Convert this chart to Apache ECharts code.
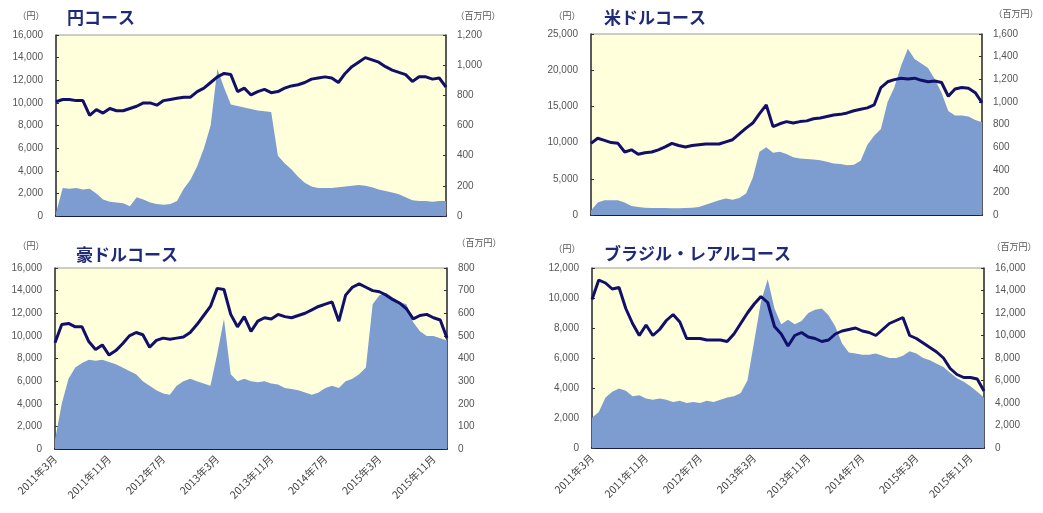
<!DOCTYPE html>
<html>
<head>
<meta charset="utf-8">
<script src="https://cdn.jsdelivr.net/npm/echarts@6/dist/echarts.min.js"></script>
<style>
  html, body { margin: 0; padding: 0; background: #ffffff; }
  #chart { width: 1043px; height: 513px; }
</style>
</head>
<body>
<div id="chart"></div>
<script>
// Monthly points, 2011年3月 .. 2016年1月 (59 months)
const startYear = 2011, startMonth = 3, monthCount = 59;
const months = [];
for (let i = 0; i < monthCount; i++) {
  const t = startMonth - 1 + i;
  months.push((startYear + Math.floor(t / 12)) + '年' + (t % 12 + 1) + '月');
}

// 円コース: 基準価額 (円) and 純資産総額 (百万円)
const yenNav = [10100, 10300, 10300, 10200, 10200, 8900, 9400, 9100, 9500, 9300,
  9300, 9500, 9700, 10000, 10000, 9800, 10200, 10300, 10400, 10500,
  10500, 11000, 11300, 11800, 12300, 12600, 12500, 11000, 11300, 10700,
  11000, 11200, 10900, 11000, 11300, 11500, 11600, 11800, 12100, 12200,
  12300, 12200, 11800, 12600, 13200, 13600, 14000, 13800, 13600, 13200,
  12900, 12700, 12500, 11900, 12300, 12300, 12100, 12200, 11400];
const yenAssets = [20, 185, 180, 185, 175, 180, 150, 110, 95, 90,
  85, 65, 125, 110, 90, 80, 75, 80, 100, 180,
  240, 330, 450, 600, 975, 850, 740, 730, 720, 710,
  700, 695, 690, 400, 350, 310, 260, 220, 195, 185,
  185, 185, 190, 195, 200, 205, 200, 190, 175, 165,
  155, 145, 125, 105, 100, 100, 95, 100, 100];

// 米ドルコース
const usdNav = [9900, 10600, 10300, 10000, 9900, 8700, 9000, 8400, 8600, 8700,
  9000, 9400, 9900, 9600, 9400, 9600, 9700, 9800, 9800, 9800,
  10100, 10400, 11200, 12000, 12700, 14000, 15200, 12200, 12600, 12900,
  12700, 12900, 13000, 13300, 13400, 13600, 13800, 13900, 14100, 14400,
  14600, 14800, 15200, 17600, 18400, 18700, 18900, 18800, 18900, 18600,
  18400, 18500, 18300, 16400, 17400, 17600, 17500, 16900, 15500];
const usdAssets = [40, 110, 130, 130, 130, 110, 80, 70, 65, 62,
  62, 62, 60, 60, 62, 65, 70, 90, 110, 130,
  145, 135, 150, 190, 330, 560, 600, 550, 560, 540,
  510, 500, 495, 490, 485, 470, 455, 450, 440, 445,
  480, 620, 700, 760, 1000, 1130, 1320, 1470, 1380, 1340,
  1300, 1200, 1080, 920, 880, 880, 870, 840, 820];

// 豪ドルコース
const audNav = [9400, 11000, 11100, 10800, 10800, 9500, 8800, 9200, 8300, 8700,
  9300, 10000, 10300, 10100, 9000, 9600, 9800, 9700, 9800, 9900,
  10300, 11000, 11800, 12600, 14200, 14100, 11900, 10800, 11700, 10400,
  11300, 11600, 11500, 11900, 11700, 11600, 11800, 12000, 12300, 12600,
  12800, 13000, 11300, 13600, 14300, 14600, 14300, 14000, 13900, 13600,
  13200, 12900, 12400, 11500, 11800, 11900, 11600, 11400, 9800];
const audAssets = [40, 200, 310, 360, 380, 395, 390, 395, 385, 375,
  360, 345, 330, 300, 280, 260, 245, 240, 280, 300,
  310, 300, 290, 280, 420, 575, 330, 300, 310, 300,
  295, 300, 290, 285, 270, 265, 260, 250, 240, 250,
  270, 280, 270, 300, 310, 330, 360, 640, 680, 690,
  670, 650, 640, 560, 520, 500, 500, 490, 480];

// ブラジル・レアルコース
const brlNav = [9900, 11200, 11000, 10600, 10700, 9300, 8300, 7500, 8200, 7500,
  7900, 8500, 8900, 8400, 7300, 7300, 7300, 7200, 7200, 7200,
  7100, 7600, 8300, 9000, 9600, 10100, 9700, 8100, 7600, 6800,
  7500, 7700, 7400, 7300, 7100, 7200, 7600, 7800, 7900, 8000,
  7800, 7700, 7500, 7900, 8300, 8500, 8700, 7500, 7300, 7000,
  6700, 6400, 6000, 5300, 4900, 4700, 4700, 4600, 3800];
const brlAssets = [2700, 3200, 4500, 5000, 5300, 5100, 4600, 4700, 4400, 4300,
  4400, 4300, 4100, 4200, 4000, 4100, 4000, 4200, 4100, 4300,
  4500, 4600, 4900, 6000, 9500, 13000, 15000, 12400, 11000, 11400,
  11000, 11300, 12000, 12300, 12400, 11800, 10800, 9300, 8500, 8400,
  8300, 8300, 8400, 8200, 8000, 8000, 8200, 8600, 8400, 8000,
  7800, 7500, 7200, 6700, 6200, 5900, 5500, 5000, 4500];

const panelTitles = ['円コース', '米ドルコース', '豪ドルコース', 'ブラジル・レアルコース'];
const leftUnit = '（円）';
const rightUnit = '（百万円）';

// axis ranges: [leftMax, leftStep, rightMax, rightStep]
const axisRanges = [
  [16000, 2000, 1200, 200],
  [25000, 5000, 1600, 200],
  [16000, 2000, 800, 100],
  [12000, 2000, 16000, 2000]
];

const navSeries = [yenNav, usdNav, audNav, brlNav];
const assetSeries = [yenAssets, usdAssets, audAssets, brlAssets];

// panel placement in pixels
const grids = [
  { left: 56, right: 597, top: 35, height: 181 },
  { left: 591, right: 61, top: 34, height: 181 },
  { left: 55, right: 596, top: 268, height: 181 },
  { left: 592, right: 59, top: 268, height: 180 }
];

const NAVY = '#10106b';
const AREA = '#7d9dd0';
const TICK_COLOR = '#555';
const fmt = v => v.toLocaleString('en-US');

const option = {
  backgroundColor: '#ffffff',
  animation: false,
  grid: grids.map(g => Object.assign({
    show: true, backgroundColor: '#ffffdc', borderColor: '#9a9a9a', borderWidth: 1
  }, g)),
  xAxis: [],
  yAxis: [],
  series: [],
  graphic: []
};

grids.forEach((g, i) => {
  const bottomRow = i >= 2;
  option.xAxis.push({
    type: 'category', gridIndex: i, data: months, boundaryGap: false,
    axisLine: { lineStyle: { color: '#1a1a50', width: 2 } },
    axisTick: { inside: true, length: 3, interval: 7, lineStyle: { color: '#1a1a50' } },
    axisLabel: {
      show: bottomRow, interval: 7, rotate: 45, fontSize: 10.5, color: '#444',
      fontFamily: 'Noto Sans CJK JP', margin: 8
    },
    splitLine: { show: false }
  });
  const r = axisRanges[i];
  option.yAxis.push({
    type: 'value', gridIndex: i, position: 'left', min: 0, max: r[0], interval: r[1],
    axisLine: { show: true, lineStyle: { color: '#333', width: 1.5 } },
    axisTick: { show: true, inside: true, length: 3, lineStyle: { color: '#333' } },
    axisLabel: { fontSize: 10, color: TICK_COLOR, margin: 13, formatter: fmt, fontFamily: 'Liberation Sans' },
    splitLine: { show: false }
  });
  option.yAxis.push({
    type: 'value', gridIndex: i, position: 'right', min: 0, max: r[2], interval: r[3],
    axisLine: { show: true, lineStyle: { color: '#333', width: 1.5 } },
    axisTick: { show: true, inside: true, length: 3, lineStyle: { color: '#333' } },
    axisLabel: { fontSize: 10, color: TICK_COLOR, margin: 11, formatter: fmt, fontFamily: 'Liberation Sans' },
    splitLine: { show: false }
  });
  option.series.push({
    type: 'line', xAxisIndex: i, yAxisIndex: 2 * i + 1, data: assetSeries[i],
    symbol: 'none', lineStyle: { width: 0 }, areaStyle: { color: AREA, opacity: 1 },
    z: 2
  });
  option.series.push({
    type: 'line', xAxisIndex: i, yAxisIndex: 2 * i, data: navSeries[i],
    symbol: 'none', lineStyle: { width: 3, color: NAVY }, z: 3
  });
});

// panel headings and unit labels
const headingPos = [
  { unitL: [31, 16], title: [67, 18], unitR: [478, 16] },
  { unitL: [567, 16], title: [604, 18], unitR: [1016, 14] },
  { unitL: [31, 246], title: [76, 255], unitR: [479, 243] },
  { unitL: [567, 249], title: [604, 254], unitR: [1014, 247] }
];
headingPos.forEach((p, i) => {
  option.graphic.push({
    type: 'text', style: {
      text: leftUnit, x: p.unitL[0], y: p.unitL[1], textAlign: 'center', textVerticalAlign: 'middle',
      font: '9px "Noto Sans CJK JP"', fill: '#555'
    }
  });
  option.graphic.push({
    type: 'text', style: {
      text: rightUnit, x: p.unitR[0], y: p.unitR[1], textAlign: 'center', textVerticalAlign: 'middle',
      font: '9px "Noto Sans CJK JP"', fill: '#555'
    }
  });
  option.graphic.push({
    type: 'text', style: {
      text: panelTitles[i], x: p.title[0], y: p.title[1], textAlign: 'left', textVerticalAlign: 'middle',
      font: 'bold 17px "Noto Sans CJK JP"', fill: '#1f2a78'
    }
  });
});

const chart = echarts.init(document.getElementById('chart'), null, { renderer: 'canvas' });
chart.setOption(option);
</script>
</body>
</html>
